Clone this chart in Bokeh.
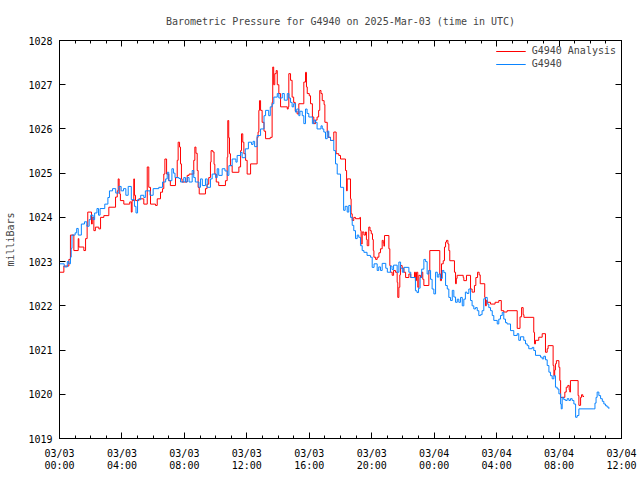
import datetime as dt
from bokeh.plotting import figure
from bokeh.models import (FixedTicker, DatetimeTickFormatter, DatetimeAxis, LinearAxis,
                          Range1d, Legend, LegendItem)
from bokeh.embed import file_html
from bokeh.resources import INLINE

START = dt.datetime(2025, 3, 3, 0, 0)
TITLE = "Barometric Pressure for G4940 on 2025-Mar-03 (time in UTC)"
Y_LABEL = "milliBars"
Y_TICKS = [1019, 1020, 1021, 1022, 1023, 1024, 1025, 1026, 1027, 1028]
X_TICK_HOURS = [0, 4, 8, 12, 16, 20, 24, 28, 32, 36]
X_MINOR_HOURS = list(range(0, 37))

# G4940 Analysis (red): hours after start, pressure (mb)
analysis_hours = [
    0.0, 0.28, 0.6, 0.7, 0.92, 1.2, 1.24, 1.56, 1.67, 1.77, 1.81, 2.05, 2.1, 2.2, 2.3, 2.52,
    2.63, 2.84, 3.16, 3.59, 3.7, 3.76, 3.82, 3.86, 3.9, 4.12, 4.5, 4.6, 4.65, 4.76, 4.8, 4.87,
    5.08, 5.4, 5.62, 5.72, 5.83, 6.15, 6.26, 6.47, 6.6, 6.68, 6.75, 6.86, 7.0, 7.1, 7.43, 7.54,
    7.6, 7.69, 7.75, 7.81, 7.85, 8.18, 8.3, 8.6, 8.67, 8.74, 8.82, 8.88, 8.95, 9.35, 9.45, 9.56,
    9.67, 9.71, 9.82, 9.9, 9.95, 10.04, 10.2, 10.63, 10.74, 10.78, 10.84, 10.89, 10.95, 11.06,
    11.49, 11.6, 11.66, 11.74, 11.81, 11.92, 12.02, 12.24, 12.66, 12.72, 12.77, 12.81, 12.88,
    12.98, 13.1, 13.2, 13.5, 13.62, 13.66, 13.72, 13.79, 13.88, 13.95, 14.05, 14.16, 14.59,
    14.65, 14.69, 14.8, 14.9, 15.0, 15.1, 15.22, 15.33, 15.65, 15.76, 15.82, 15.87, 16.0, 16.08,
    16.2, 16.29, 16.4, 16.5, 16.6, 16.67, 16.75, 16.83, 16.95, 17.0, 17.15, 17.21, 17.36, 17.57,
    17.72, 17.89, 18.0, 18.32, 18.39, 18.43, 18.64, 18.68, 18.75, 18.85, 18.96, 19.24, 19.28,
    19.32, 19.39, 19.5, 19.6, 19.66, 19.71, 19.81, 19.89, 19.97, 20.05, 20.1, 20.14, 20.25,
    20.35, 20.46, 20.56, 20.67, 20.74, 20.78, 20.82, 21.1, 21.16, 21.2, 21.31, 21.4, 21.52,
    21.63, 21.67, 21.74, 21.8, 21.84, 21.95, 22.06, 22.17, 22.38, 22.5, 22.74, 22.8, 22.87,
    22.95, 23.02, 23.13, 23.2, 23.27, 23.34, 23.66, 23.72, 24.36, 24.4, 24.47, 24.58, 24.66,
    24.73, 24.79, 24.88, 24.94, 25.0, 25.3, 25.37, 25.42, 25.47, 25.86, 25.9, 26.07, 26.33,
    26.43, 26.58, 26.67, 26.78, 26.88, 26.95, 27.24, 27.29, 27.34, 27.4, 27.61, 27.9, 28.14,
    28.3, 28.46, 28.67, 29.32, 29.5, 29.6, 29.7, 29.75, 30.38, 30.43, 30.49, 30.7, 30.92, 31.13,
    31.24, 31.3, 31.56, 31.62, 31.67, 31.72, 31.77, 31.83, 31.99, 32.05, 32.1, 32.37, 32.46,
    32.56, 32.65, 32.69, 32.73, 33.22, 33.27, 33.38, 33.44, 33.52, 33.6,
]
analysis_mb = [
    1022.76, 1022.9, 1023.05, 1023.6, 1023.25, 1023.52, 1023.33, 1023.25, 1023.52, 1023.82, 1024.12,
    1023.85, 1024.0, 1023.7, 1023.78, 1023.74, 1024.0, 1024.04, 1024.23, 1024.46, 1024.6, 1024.87,
    1024.7, 1024.53, 1024.38, 1024.3, 1024.35, 1024.12, 1024.38, 1024.87, 1024.5, 1024.38, 1024.42,
    1024.3, 1025.14, 1024.68, 1024.3, 1024.27, 1024.42, 1024.57, 1024.65, 1024.98, 1025.32, 1024.98,
    1024.83, 1024.72, 1024.9, 1025.29, 1025.7, 1025.59, 1025.21, 1024.87, 1024.8, 1024.95, 1024.98,
    1025.29, 1025.59, 1025.45, 1025.06, 1024.68, 1024.53, 1024.65, 1024.75, 1024.9, 1025.25, 1025.51,
    1025.48, 1025.2, 1024.98, 1024.8, 1024.72, 1024.83, 1025.36, 1026.19, 1025.8, 1025.44, 1025.17,
    1025.02, 1025.14, 1025.51, 1025.89, 1025.7, 1025.44, 1025.29, 1024.98, 1025.21, 1025.81, 1025.93,
    1026.42, 1026.64, 1026.42, 1026.15, 1025.95, 1025.78, 1025.81, 1026.6, 1027.4, 1027.0, 1027.25,
    1027.32, 1027.0, 1026.8, 1026.5, 1026.45, 1026.5, 1027.25, 1027.1, 1026.72, 1026.6, 1026.4,
    1026.34, 1026.57, 1027.06, 1027.28, 1026.95, 1026.8, 1026.75, 1026.57, 1026.27, 1026.12, 1026.2,
    1026.27, 1026.42, 1026.87, 1026.8, 1026.64, 1026.55, 1026.15, 1025.93, 1025.81, 1025.74, 1025.93,
    1025.44, 1025.4, 1025.32, 1025.06, 1024.6, 1024.87, 1024.42, 1024.08, 1023.93, 1024.0, 1023.97,
    1024.0, 1023.7, 1023.4, 1023.67, 1023.6, 1023.67, 1023.5, 1023.36, 1023.78, 1023.7, 1023.63,
    1023.5, 1023.25, 1023.1, 1023.05, 1023.1, 1023.2, 1023.29, 1023.48, 1023.42, 1023.35, 1023.59,
    1023.29, 1022.91, 1022.76, 1022.69, 1022.8, 1022.76, 1022.53, 1022.19, 1022.42, 1022.7, 1022.91,
    1022.85, 1022.76, 1022.64, 1022.72, 1022.64, 1022.76, 1022.57, 1022.76, 1022.42, 1022.69, 1022.64,
    1022.76, 1022.6, 1022.46, 1022.8, 1023.25, 1022.72, 1022.57, 1022.95, 1023.02, 1023.33, 1023.44,
    1023.48, 1023.4, 1023.25, 1023.02, 1022.76, 1022.5, 1022.62, 1022.69, 1022.64, 1022.57, 1022.69,
    1022.38, 1022.31, 1022.46, 1022.64, 1022.76, 1022.7, 1022.5, 1022.19, 1022.0, 1022.12, 1022.08,
    1022.04, 1022.08, 1022.12, 1021.89, 1021.86, 1021.89, 1021.49, 1021.75, 1021.96, 1021.8, 1021.74,
    1021.4, 1021.14, 1021.22, 1021.29, 1021.37, 1020.95, 1021.03, 1021.1, 1021.1, 1020.65, 1020.42,
    1020.55, 1020.69, 1020.76, 1020.61, 1020.31, 1019.93, 1020.05, 1020.16, 1020.2, 1020.1, 1020.05,
    1020.31, 1019.97, 1019.75, 1019.93, 1019.99, 1019.95, 1019.95,
]

# G4940 observations (blue)
obs_hours = [
    0.0, 0.3, 0.5, 0.6, 0.7, 0.75, 0.8, 1.0, 1.1, 1.2, 1.4, 1.6, 1.75, 1.9, 2.0, 2.15, 2.25, 2.4,
    2.5, 2.6, 2.9, 3.1, 3.2, 3.4, 3.6, 3.8, 3.95, 4.1, 4.25, 4.4, 4.6, 4.8, 4.9, 5.0, 5.2, 5.4,
    5.5, 5.8, 6.0, 6.36, 6.6, 6.8, 6.9, 7.0, 7.2, 7.3, 7.4, 7.65, 7.75, 7.96, 8.07, 8.18, 8.3,
    8.5, 8.6, 8.7, 8.93, 9.03, 9.15, 9.35, 9.46, 9.67, 9.78, 10.0, 10.1, 10.2, 10.42, 10.6, 10.75,
    10.85, 11.06, 11.3, 11.38, 11.6, 11.7, 11.9, 12.1, 12.3, 12.4, 12.5, 12.66, 12.88, 13.1, 13.2,
    13.4, 13.5, 13.62, 13.73, 13.95, 14.05, 14.27, 14.4, 14.59, 14.7, 14.8, 14.9, 15.0, 15.12,
    15.2, 15.33, 15.4, 15.55, 15.65, 15.76, 15.86, 15.97, 16.2, 16.3, 16.4, 16.5, 16.75, 16.83,
    16.93, 17.04, 17.15, 17.25, 17.36, 17.57, 17.68, 17.79, 18.0, 18.2, 18.3, 18.43, 18.53, 18.64,
    18.75, 18.85, 18.96, 19.07, 19.17, 19.28, 19.39, 19.5, 19.7, 19.92, 20.03, 20.15, 20.35,
    20.45, 20.56, 20.67, 20.9, 21.0, 21.2, 21.3, 21.4, 21.63, 21.74, 21.85, 21.96, 22.06, 22.38,
    22.5, 22.8, 22.9, 23.0, 23.1, 23.2, 23.34, 23.45, 23.55, 23.66, 23.77, 23.87, 23.98, 24.09,
    24.2, 24.3, 24.4, 24.52, 24.62, 24.73, 24.84, 24.94, 25.05, 25.16, 25.26, 25.37, 25.48, 25.58,
    25.69, 25.8, 25.9, 26.0, 26.1, 26.22, 26.33, 26.43, 26.54, 26.65, 26.76, 26.86, 26.97, 27.07,
    27.18, 27.29, 27.4, 27.5, 27.61, 27.72, 27.82, 28.04, 28.14, 28.25, 28.36, 28.46, 28.57,
    28.67, 28.89, 29.1, 29.32, 29.42, 29.53, 29.74, 29.85, 29.96, 30.06, 30.28, 30.38, 30.49,
    30.81, 30.92, 31.02, 31.13, 31.24, 31.35, 31.45, 31.56, 31.67, 31.77, 31.88, 31.99, 32.1,
    32.14, 32.2, 32.3, 32.41, 32.52, 32.63, 32.73, 32.84, 32.95, 33.06, 33.16, 33.27, 34.23,
    34.3, 34.37, 34.44, 34.55, 34.66, 34.77, 34.87, 34.98, 35.08, 35.19,
]
obs_mb = [
    1022.95, 1022.88, 1023.0, 1022.95, 1023.1, 1023.3, 1023.6, 1023.65, 1023.75, 1023.6, 1023.85,
    1023.9, 1023.8, 1023.95, 1024.05, 1023.95, 1024.1, 1024.2, 1024.05, 1024.2, 1024.3, 1024.45,
    1024.6, 1024.65, 1024.55, 1024.7, 1024.6, 1024.65, 1024.5, 1024.7, 1024.4, 1024.25, 1024.1,
    1024.4, 1024.5, 1024.45, 1024.6, 1024.5, 1024.65, 1024.68, 1024.8, 1024.87, 1025.02, 1024.83,
    1025.1, 1025.0, 1024.9, 1024.88, 1024.8, 1024.9, 1024.8, 1024.9, 1024.8, 1025.06, 1024.9,
    1024.8, 1024.68, 1024.87, 1024.72, 1024.87, 1024.68, 1024.87, 1024.98, 1024.9, 1025.1, 1024.95,
    1025.1, 1025.05, 1024.95, 1025.17, 1025.32, 1025.25, 1025.4, 1025.47, 1025.35, 1025.55, 1025.7,
    1025.65, 1025.72, 1025.6, 1025.85, 1026.0, 1026.3, 1026.42, 1026.3, 1026.5, 1026.57, 1026.72,
    1026.8, 1026.7, 1026.8, 1026.65, 1026.8, 1026.7, 1026.6, 1026.5, 1026.57, 1026.38, 1026.45,
    1026.3, 1026.4, 1026.3, 1026.12, 1026.45, 1026.35, 1026.27, 1026.12, 1026.2, 1026.15, 1026.0,
    1026.07, 1026.0, 1025.93, 1025.78, 1025.95, 1025.81, 1025.74, 1025.51, 1025.21, 1024.98,
    1024.68, 1024.16, 1024.25, 1024.12, 1024.27, 1024.0, 1023.82, 1023.7, 1023.52, 1023.6, 1023.55,
    1023.36, 1023.25, 1023.21, 1023.14, 1023.1, 1022.87, 1022.95, 1022.8, 1022.88, 1022.8, 1022.96,
    1022.85, 1022.76, 1022.9, 1022.82, 1022.92, 1022.76, 1022.99, 1022.85, 1022.76, 1022.87,
    1022.76, 1022.64, 1022.34, 1022.3, 1022.4, 1022.64, 1022.83, 1023.05, 1023.0, 1022.72, 1022.8,
    1022.6, 1022.38, 1022.27, 1022.76, 1022.65, 1022.72, 1022.62, 1022.8, 1022.75, 1022.46, 1022.38,
    1022.19, 1022.12, 1022.35, 1022.2, 1022.08, 1022.15, 1022.08, 1022.19, 1022.0, 1022.15, 1022.31,
    1022.28, 1022.38, 1022.12, 1022.0, 1021.93, 1021.96, 1021.89, 1021.78, 1021.8, 1021.89, 1022.16,
    1022.19, 1022.04, 1021.96, 1021.89, 1021.78, 1021.67, 1021.59, 1021.7, 1021.78, 1021.85, 1021.7,
    1021.62, 1021.59, 1021.44, 1021.33, 1021.37, 1021.22, 1021.3, 1021.22, 1021.14, 1021.1, 1021.03,
    1021.06, 1020.99, 1020.88, 1020.84, 1020.8, 1020.86, 1020.78, 1020.65, 1020.5, 1020.42, 1020.35,
    1020.42, 1020.16, 1020.12, 1020.01, 1019.78, 1019.67, 1019.93, 1019.88, 1019.86, 1019.9,
    1019.86, 1019.9, 1019.86, 1019.78, 1019.48, 1019.52, 1019.67, 1019.67, 1019.8, 1019.93, 1020.05,
    1019.97, 1019.9, 1019.84, 1019.78, 1019.74, 1019.71, 1019.67,
]

EPOCH = dt.datetime(1970, 1, 1)
BASE_MS = (START - EPOCH).total_seconds() * 1000.0
HOUR_MS = 3600.0 * 1000.0


def to_dt(hours):
    return [START + dt.timedelta(hours=h) for h in hours]


FONT = "DejaVu Sans Mono"
RED = "#ff0000"
BLUE = "#0a84ff"

p = figure(width=640, height=480, x_axis_type="datetime",
           x_range=Range1d(BASE_MS + X_TICK_HOURS[0] * HOUR_MS, BASE_MS + X_TICK_HOURS[-1] * HOUR_MS),
           y_range=Range1d(Y_TICKS[0], Y_TICKS[-1]),
           output_backend="svg", toolbar_location=None,
           min_border_left=59, min_border_right=19, min_border_top=40, min_border_bottom=42,
           title=TITLE)

p.title.text_font = FONT
p.title.text_font_size = "10px"
p.title.text_font_style = "normal"
p.title.align = "center"
p.title.standoff = 27

p.xgrid.visible = False
p.ygrid.visible = False
p.outline_line_color = "black"
p.outline_line_width = 1
p.background_fill_color = "white"
p.border_fill_color = "white"

xticker = FixedTicker(ticks=[BASE_MS + h * HOUR_MS for h in X_TICK_HOURS],
                      minor_ticks=[BASE_MS + h * HOUR_MS for h in X_MINOR_HOURS])
yticker = FixedTicker(ticks=Y_TICKS, minor_ticks=[])

fmt = "%m/%d\n%H:%M"
xfmt = DatetimeTickFormatter(microseconds=fmt, milliseconds=fmt, seconds=fmt, minsec=fmt,
                             minutes=fmt, hourmin=fmt, hours=fmt, days=fmt, months=fmt, years=fmt,
                             strip_leading_zeros=False)

xa = p.xaxis[0]
xa.ticker = xticker
xa.formatter = xfmt
ya = p.yaxis[0]
ya.ticker = yticker
ya.axis_label = Y_LABEL

for ax in (xa, ya):
    ax.axis_line_color = "black"
    ax.major_tick_line_color = "black"
    ax.minor_tick_line_color = "black"
    ax.major_tick_in = 6
    ax.major_tick_out = 0
    ax.minor_tick_in = 3
    ax.minor_tick_out = 0
    ax.major_label_text_font = FONT
    ax.major_label_text_font_size = "10px"
    ax.major_label_text_color = "black"
    ax.axis_label_text_font = FONT
    ax.axis_label_text_font_size = "10px"
    ax.axis_label_text_font_style = "normal"

xa.major_label_standoff = 9
xa.major_label_text_line_height = 1.15
ya.major_label_standoff = 7
ya.axis_label_standoff = 9

top = DatetimeAxis(ticker=xticker, major_label_text_color=None, major_label_standoff=0,
                   major_tick_in=6, major_tick_out=0, minor_tick_in=3, minor_tick_out=0,
                   axis_line_color="black")
right = LinearAxis(ticker=yticker, major_label_text_color=None, major_label_standoff=0,
                   major_tick_in=6, major_tick_out=0, minor_tick_in=0, minor_tick_out=0,
                   axis_line_color="black")
p.add_layout(top, "above")
p.add_layout(right, "right")

r_red = p.step(to_dt(analysis_hours), analysis_mb, mode="after", line_color=RED, line_width=1)
r_blue = p.step(to_dt(obs_hours), obs_mb, mode="after", line_color=BLUE, line_width=1)

legend = Legend(items=[LegendItem(label="G4940 Analysis", renderers=[r_red]),
                       LegendItem(label="G4940", renderers=[r_blue])],
                location="top_right", background_fill_alpha=0, border_line_alpha=0,
                label_text_font=FONT, label_text_font_size="10px", glyph_width=30,
                glyph_height=10, label_height=10, spacing=2, padding=2, margin=3,
                label_standoff=6)
p.add_layout(legend)

open("out.html", "w").write(file_html(p, INLINE))
